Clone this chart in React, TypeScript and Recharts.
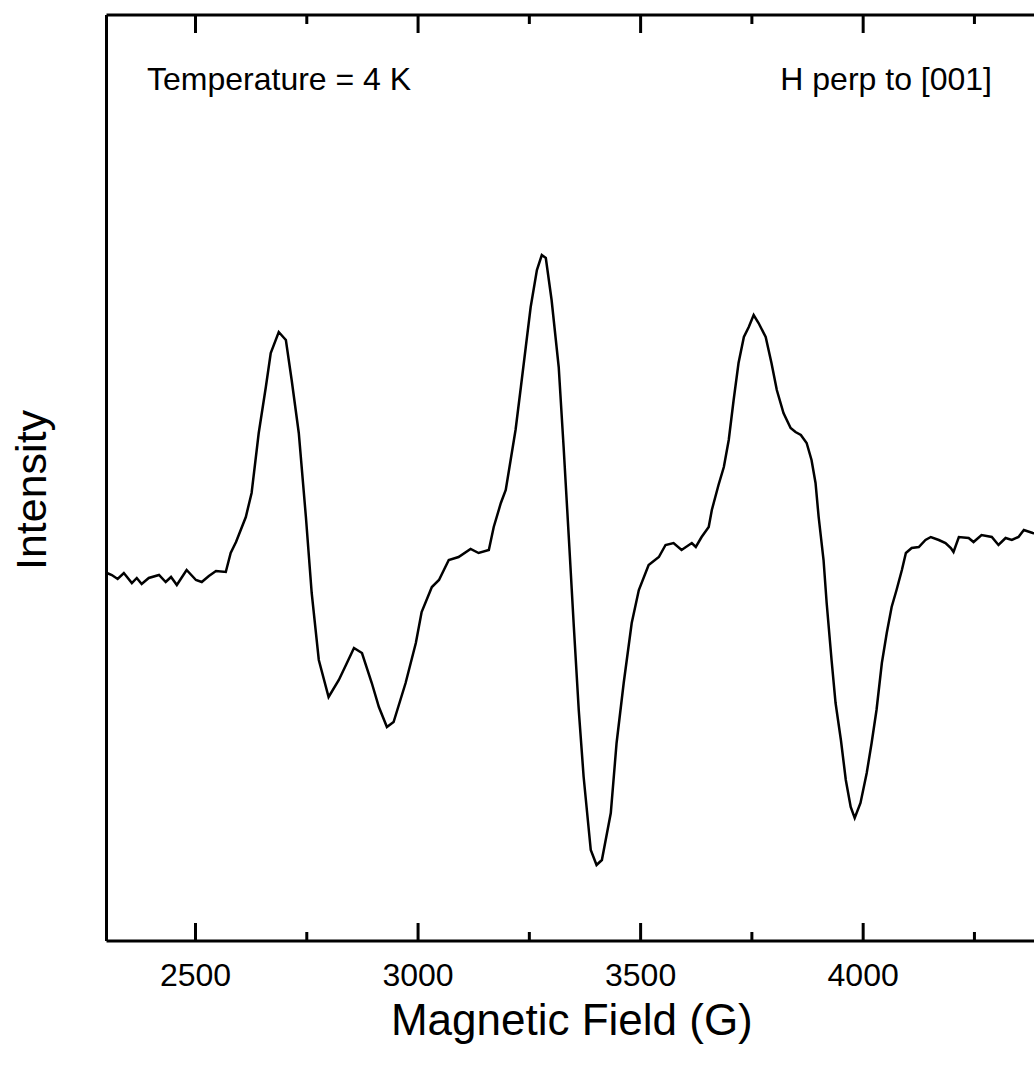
import { LineChart, Line, XAxis, YAxis, Label, ReferenceLine } from "recharts";

// field (G) and intensity (arb. units, baseline ~0)
const FIELD = [
  2301, 2312, 2325, 2339, 2357, 2368, 2379, 2395, 2418, 2433, 2445, 2458,
  2480, 2501, 2514, 2530, 2546, 2568, 2579, 2591, 2613, 2626, 2642, 2658,
  2669, 2687, 2703, 2716, 2732, 2748, 2761, 2777, 2799, 2822, 2838, 2856,
  2874, 2896, 2912, 2930, 2945, 2972, 2995, 3008, 3031, 3047, 3058, 3069,
  3091, 3118, 3136, 3159, 3170, 3186, 3197, 3208, 3219, 3231, 3242, 3253,
  3267, 3278, 3287, 3300, 3316, 3327, 3339, 3350, 3361, 3372, 3388, 3401,
  3413, 3433, 3446, 3462, 3480, 3496, 3518, 3541, 3556, 3574, 3592, 3615,
  3624, 3637, 3653, 3660, 3675, 3687, 3698, 3709, 3720, 3732, 3743, 3754,
  3765, 3781, 3794, 3806, 3821, 3837, 3848, 3860, 3873, 3884, 3893, 3900,
  3911, 3918, 3929, 3938, 3950, 3961, 3972, 3981, 3994, 4008, 4019, 4030,
  4042, 4053, 4064, 4075, 4087, 4096, 4109, 4125, 4140, 4152, 4170, 4185,
  4197, 4203, 4215, 4237, 4248, 4266, 4289, 4304, 4320, 4334, 4349, 4361,
  4381, 4400,
];

const INTENSITY = [
  7, 5, 1, 7, -3, 2, -4, 2, 5, -2, 3, -5,
  10, 0, -2, 4, 9, 8, 27, 38, 63, 87, 147, 193,
  227, 248, 240, 200, 147, 63, -13, -80, -117, -100, -85, -68,
  -73, -103, -127, -147, -142, -103, -63, -32, -7, 0, 10, 20,
  23, 31, 27, 30, 53, 77, 90, 120, 150, 193, 233, 273,
  310, 325, 322, 280, 213, 133, 40, -47, -130, -197, -270, -285,
  -280, -233, -163, -103, -43, -10, 15, 23, 35, 37, 30, 37,
  33, 43, 53, 70, 95, 113, 140, 180, 217, 243, 253, 265,
  257, 243, 217, 190, 167, 152, 148, 145, 137, 120, 97, 63,
  20, -23, -80, -123, -160, -200, -227, -238, -223, -193, -163, -130,
  -83, -53, -27, -10, 10, 27, 32, 33, 40, 43, 40, 37,
  32, 28, 43, 42, 38, 45, 43, 35, 42, 40, 43, 50,
  47, 45,
];

const MAJOR_TICKS = [2500, 3000, 3500, 4000];
const ALL_TICKS = [2500, 2750, 3000, 3250, 3500, 3750, 4000, 4250];
const Y_DOMAIN = [-361, 565];

const data = FIELD.map((f, i) => ({ field: f, intensity: INTENSITY[i] }));

const FONT = "'Liberation Sans', Arial, Helvetica, sans-serif";
const MARGIN = { top: 15, right: 8.8, bottom: 0, left: 96.5 };
const TICK_MARGIN = 22;

// each field tick is mirrored on the bottom and top frame, pointing inward
function FrameTick(props: any) {
  const { x, y, payload } = props;
  const major = MAJOR_TICKS.includes(payload.value);
  const len = major ? 18 : 9;
  const axisY = y - TICK_MARGIN;
  return (
    <g>
      <line
        x1={x}
        x2={x}
        y1={axisY}
        y2={axisY - len}
        stroke="#000"
        strokeWidth={3}
      />
      <line
        x1={x}
        x2={x}
        y1={MARGIN.top}
        y2={MARGIN.top + len}
        stroke="#000"
        strokeWidth={3}
      />
      {major && (
        <text
          x={x}
          y={y}
          dy="0.71em"
          textAnchor="middle"
          fontSize={32}
          fontFamily={FONT}
          fill="#000"
        >
          {payload.value}
        </text>
      )}
    </g>
  );
}

const noteStyle: React.CSSProperties = {
  position: "absolute",
  top: 63,
  fontFamily: FONT,
  fontSize: 32,
  lineHeight: "32px",
  color: "#000",
  whiteSpace: "nowrap",
};

export default function App() {
  return (
    <div
      style={{
        position: "absolute",
        left: 0,
        top: 0,
        width: 1034,
        height: 1072,
        overflow: "hidden",
        background: "#fff",
      }}
    >
      <LineChart width={1050} height={1072} data={data} margin={MARGIN}>
        <XAxis
          dataKey="field"
          type="number"
          domain={[2300, 4400]}
          allowDataOverflow
          ticks={ALL_TICKS}
          interval={0}
          height={131}
          tickSize={0}
          tickMargin={TICK_MARGIN}
          tickLine={false}
          tick={<FrameTick />}
          axisLine={{ stroke: "#000", strokeWidth: 3 }}
        >
          <Label
            content={(p: any) => {
              const vb = p.viewBox;
              return (
                <text
                  x={vb.x + vb.width / 2 - 2}
                  y={vb.y + 94}
                  textAnchor="middle"
                  fontSize={44}
                  fontFamily={FONT}
                  fill="#000"
                >
                  Magnetic Field (G)
                </text>
              );
            }}
          />
        </XAxis>
        <YAxis
          type="number"
          domain={Y_DOMAIN}
          allowDataOverflow
          width={10}
          tick={false}
          tickLine={false}
          axisLine={{ stroke: "#000", strokeWidth: 3 }}
        >
          <Label
            content={(p: any) => {
              const vb = p.viewBox;
              const cx = vb.x + vb.width - 61;
              const cy = vb.y + vb.height / 2 + 12;
              return (
                <text
                  x={cx}
                  y={cy}
                  transform={`rotate(-90, ${cx}, ${cy})`}
                  textAnchor="middle"
                  fontSize={43}
                  fontFamily={FONT}
                  fill="#000"
                >
                  Intensity
                </text>
              );
            }}
          />
        </YAxis>
        {/* top frame line */}
        <ReferenceLine
          y={Y_DOMAIN[1]}
          stroke="#000"
          strokeWidth={3}
          ifOverflow="visible"
        />
        <Line
          type="linear"
          dataKey="intensity"
          stroke="#000"
          strokeWidth={2.5}
          dot={false}
          activeDot={false}
          isAnimationActive={false}
        />
      </LineChart>
      <div style={{ ...noteStyle, left: 147 }}>Temperature = 4 K</div>
      <div style={{ ...noteStyle, right: 42 }}>H perp to [001]</div>
    </div>
  );
}
